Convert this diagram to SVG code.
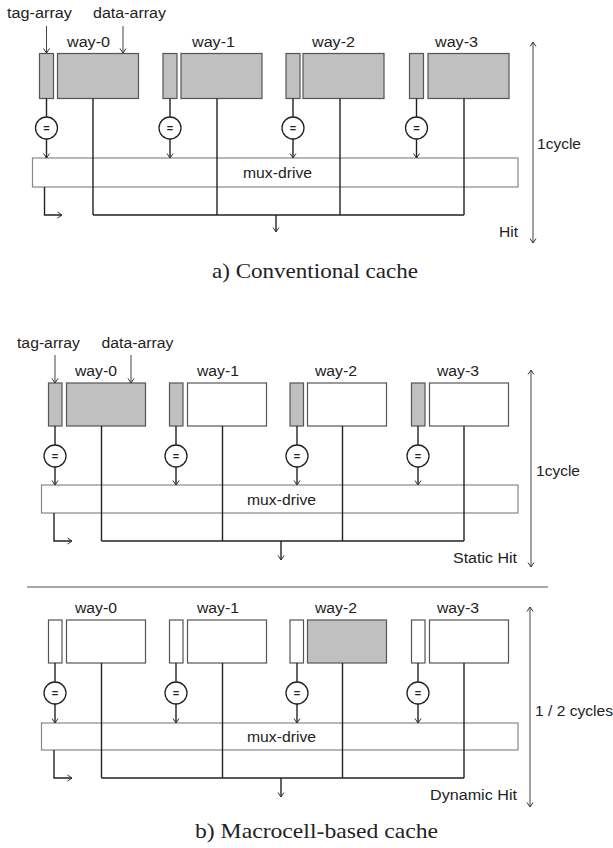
<svg xmlns="http://www.w3.org/2000/svg" width="613" height="848" viewBox="0 0 613 848">
<style>
text{font-family:"Liberation Sans",Arial,sans-serif;font-size:14px;fill:#222}
.cap{font-family:"Liberation Serif","Times New Roman",serif;font-size:21px;fill:#222}
.g{fill:#c0c0c0;stroke:#555;stroke-width:1.2}
.w{fill:#fff;stroke:#555;stroke-width:1.2}
.mux{fill:#fff;stroke:#888;stroke-width:1.2}
.cmp{fill:#fff;stroke:#222;stroke-width:1.3}
.eq{font-size:11px;font-weight:bold}
.ln{fill:none;stroke:#222;stroke-width:1.4}
.thin{fill:none;stroke:#444;stroke-width:1}
.ar{marker-end:url(#ah)}
.dim{fill:none;stroke:#444;stroke-width:1;marker-start:url(#ah);marker-end:url(#ah)}
</style>
<defs>
<marker id="ah" markerWidth="8" markerHeight="8" refX="6" refY="4" orient="auto-start-reverse" markerUnits="userSpaceOnUse">
<path d="M1.5,1 L6,4 L1.5,7" fill="none" stroke="#333" stroke-width="1"/>
</marker>
<symbol id="eqc" overflow="visible">
<circle cx="0" cy="0" r="11" class="cmp"/>
<text x="0" y="4" text-anchor="middle" class="eq">=</text>
</symbol>
</defs>

<!-- ===== Part a ===== -->
<g id="a-labels">
<text x="7" y="18" textLength="65" lengthAdjust="spacingAndGlyphs">tag-array</text>
<text x="93" y="18" textLength="73" lengthAdjust="spacingAndGlyphs">data-array</text>
<text x="67" y="47" textLength="43" lengthAdjust="spacingAndGlyphs">way-0</text>
<text x="192" y="47" textLength="43" lengthAdjust="spacingAndGlyphs">way-1</text>
<text x="312" y="47" textLength="43" lengthAdjust="spacingAndGlyphs">way-2</text>
<text x="435" y="47" textLength="43" lengthAdjust="spacingAndGlyphs">way-3</text>
<text x="537" y="149" textLength="44" lengthAdjust="spacingAndGlyphs">1cycle</text>
<text x="499" y="237" textLength="19" lengthAdjust="spacingAndGlyphs">Hit</text>
<text class="cap" x="212" y="278" textLength="206" lengthAdjust="spacingAndGlyphs">a) Conventional cache</text>
</g>
<g id="a-way0"><rect class="g" x="39.5" y="53.5" width="14" height="45"/><rect class="g" x="57.5" y="53.5" width="81" height="45"/></g>
<g id="a-way1"><rect class="g" x="163" y="53.5" width="14" height="45"/><rect class="g" x="181" y="53.5" width="81" height="45"/></g>
<g id="a-way2"><rect class="g" x="286" y="53.5" width="14" height="45"/><rect class="g" x="303" y="53.5" width="81" height="45"/></g>
<g id="a-way3"><rect class="g" x="409.5" y="53.5" width="14" height="45"/><rect class="g" x="428" y="53.5" width="81" height="45"/></g>
<g id="a-cmp">
<use href="#eqc" x="46.5" y="128"/><use href="#eqc" x="170" y="128"/><use href="#eqc" x="293" y="128"/><use href="#eqc" x="416.5" y="128"/>
</g>
<g id="a-mux"><rect class="mux" x="32.5" y="158" width="485.5" height="29"/><text x="243" y="178" textLength="69" lengthAdjust="spacingAndGlyphs">mux-drive</text></g>
<g id="a-connectors">
<path class="thin ar" d="M46.5,26V53"/>
<path class="thin ar" d="M123,26V53"/>
<path class="ln" d="M46.5,98.5V117M170,98.5V117M293,98.5V117M416.5,98.5V117"/>
<path class="ln ar" d="M46.5,139V158"/><path class="ln ar" d="M170,139V158"/><path class="ln ar" d="M293,139V158"/><path class="ln ar" d="M416.5,139V158"/>
<path class="ln" d="M93,98.5V215M217,98.5V215M340,98.5V215M464,98.5V215M93,215H464"/>
<path class="ln ar" d="M276,215V232"/>
<path class="ln ar" d="M44.5,187V215H62"/>
<path class="dim" d="M533,42V243"/>
</g>

<!-- ===== Part b, static ===== -->
<g id="b1-labels">
<text x="17" y="348" textLength="63" lengthAdjust="spacingAndGlyphs">tag-array</text>
<text x="101.5" y="348" textLength="72" lengthAdjust="spacingAndGlyphs">data-array</text>
<text x="75" y="376" textLength="42" lengthAdjust="spacingAndGlyphs">way-0</text>
<text x="197" y="376" textLength="42" lengthAdjust="spacingAndGlyphs">way-1</text>
<text x="315" y="376" textLength="42" lengthAdjust="spacingAndGlyphs">way-2</text>
<text x="437" y="376" textLength="42" lengthAdjust="spacingAndGlyphs">way-3</text>
<text x="536" y="476" textLength="44" lengthAdjust="spacingAndGlyphs">1cycle</text>
<text x="453" y="563" textLength="64" lengthAdjust="spacingAndGlyphs">Static Hit</text>
</g>
<g id="b1-way0"><rect class="g" x="48.5" y="383" width="13.5" height="43"/><rect class="g" x="66.5" y="383" width="79" height="43"/></g>
<g id="b1-way1"><rect class="g" x="169.5" y="383" width="13.5" height="43"/><rect class="w" x="187.5" y="383" width="79" height="43"/></g>
<g id="b1-way2"><rect class="g" x="290" y="383" width="13.5" height="43"/><rect class="w" x="307.5" y="383" width="79" height="43"/></g>
<g id="b1-way3"><rect class="g" x="411.5" y="383" width="13.5" height="43"/><rect class="w" x="429.5" y="383" width="79" height="43"/></g>
<g id="b1-cmp">
<use href="#eqc" x="55" y="456"/><use href="#eqc" x="176" y="456"/><use href="#eqc" x="297" y="456"/><use href="#eqc" x="418" y="456"/>
</g>
<g id="b1-mux"><rect class="mux" x="41.5" y="485" width="476.5" height="28"/><text x="247" y="504.5" textLength="69" lengthAdjust="spacingAndGlyphs">mux-drive</text></g>
<g id="b1-connectors">
<path class="thin ar" d="M55,355V383"/>
<path class="thin ar" d="M131,355V383"/>
<path class="ln" d="M55,426V445M176,426V445M297,426V445M418,426V445"/>
<path class="ln ar" d="M55,467V485"/><path class="ln ar" d="M176,467V485"/><path class="ln ar" d="M297,467V485"/><path class="ln ar" d="M418,467V485"/>
<path class="ln" d="M101.5,426V541M222.5,426V541M342.5,426V541M464,426V541M101.5,541H464"/>
<path class="ln ar" d="M281,541V560"/>
<path class="ln ar" d="M54,513V541H72"/>
<path class="dim" d="M531,370V567"/>
</g>

<g id="separator"><path d="M27,587H548" stroke="#555" stroke-width="1.2"/></g>

<!-- ===== Part b, dynamic ===== -->
<g id="b2-labels">
<text x="75" y="613" textLength="42" lengthAdjust="spacingAndGlyphs">way-0</text>
<text x="197" y="613" textLength="42" lengthAdjust="spacingAndGlyphs">way-1</text>
<text x="315" y="613" textLength="42" lengthAdjust="spacingAndGlyphs">way-2</text>
<text x="437" y="613" textLength="42" lengthAdjust="spacingAndGlyphs">way-3</text>
<text x="535" y="716" textLength="78" lengthAdjust="spacingAndGlyphs">1 / 2 cycles</text>
<text x="430" y="799.5" textLength="87" lengthAdjust="spacingAndGlyphs">Dynamic Hit</text>
<text class="cap" x="195" y="838" textLength="243" lengthAdjust="spacingAndGlyphs">b) Macrocell-based cache</text>
</g>
<g id="b2-way0"><rect class="w" x="48.5" y="620" width="13.5" height="43"/><rect class="w" x="66.5" y="620" width="79" height="43"/></g>
<g id="b2-way1"><rect class="w" x="169.5" y="620" width="13.5" height="43"/><rect class="w" x="187.5" y="620" width="79" height="43"/></g>
<g id="b2-way2"><rect class="w" x="290" y="620" width="13.5" height="43"/><rect class="g" x="307.5" y="620" width="79" height="43"/></g>
<g id="b2-way3"><rect class="w" x="411.5" y="620" width="13.5" height="43"/><rect class="w" x="429.5" y="620" width="79" height="43"/></g>
<g id="b2-cmp">
<use href="#eqc" x="55" y="693"/><use href="#eqc" x="176" y="693"/><use href="#eqc" x="297" y="693"/><use href="#eqc" x="418" y="693"/>
</g>
<g id="b2-mux"><rect class="mux" x="41.5" y="723" width="476.5" height="27"/><text x="247" y="741.5" textLength="69" lengthAdjust="spacingAndGlyphs">mux-drive</text></g>
<g id="b2-connectors">
<path class="ln" d="M55,663V682M176,663V682M297,663V682M418,663V682"/>
<path class="ln ar" d="M55,704V723"/><path class="ln ar" d="M176,704V723"/><path class="ln ar" d="M297,704V723"/><path class="ln ar" d="M418,704V723"/>
<path class="ln" d="M101.5,663V778M222.5,663V778M342.5,663V778M464,663V778M101.5,778H464"/>
<path class="ln ar" d="M281,778V797"/>
<path class="ln ar" d="M54,750V778H72"/>
<path class="dim" d="M530,607V807"/>
</g>
</svg>
